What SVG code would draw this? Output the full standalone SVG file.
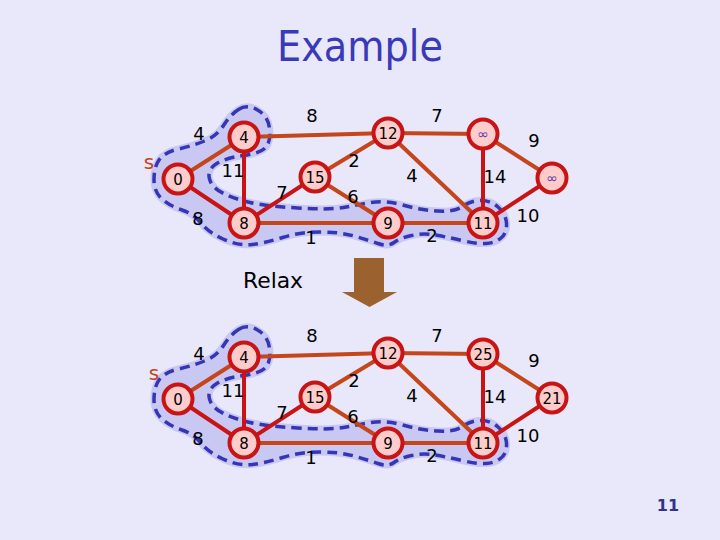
<svg xmlns="http://www.w3.org/2000/svg" xmlns:xlink="http://www.w3.org/1999/xlink" width="720" height="540" viewBox="0 0 720 540">
<style>
.bg{fill:#e8e8fa}
.cf{fill:#c8c8f3;stroke:#c8c8f3;stroke-width:7;stroke-linejoin:round}
.cd{fill:none;stroke:#3535b5;stroke-width:3.5;stroke-dasharray:10 6}
.eo{stroke:#c4461a;stroke-width:4}
.er{stroke:#c81414;stroke-width:4}
.nd circle{fill:#ffcccc;stroke:#c81414;stroke-width:4}
.nt{font-family:"DejaVu Sans",sans-serif;font-size:15px;fill:#000;text-anchor:middle}
.inf{font-family:"DejaVu Sans",sans-serif;font-size:14px;fill:#5a3ab0;text-anchor:middle}
.el{font-family:"DejaVu Sans",sans-serif;font-size:18px;fill:#000;text-anchor:middle}
.s{font-family:"DejaVu Sans",sans-serif;font-size:20px;fill:#c4461a;text-anchor:middle}
</style>
<defs>
<path id="cloud" d="M238.5,109.5 Q247,104 257.5,110 Q268,116 269.5,128 Q271,140 266.5,146.5 Q262,153 243.5,155.5 Q225,158 216,164 Q207,170 209.5,179 Q212,188 223.5,193.5 Q235,199 250,202.5 Q265,206 297.5,208 Q330,210 343.5,207.5 Q357,205 371,202.5 Q385,200 402.5,205 Q420,210 437.5,211 Q455,212 462.5,206.5 Q470,201 480,200.5 Q490,200 498,207 Q506,214 506.5,223.5 Q507,233 501,238 Q495,243 486,243.5 Q477,244 462,240.5 Q447,237 435,235 Q423,233 411.5,235.5 Q400,238 394,242.5 Q388,247 378,243.5 Q368,240 354,236 Q340,232 320,232 Q300,232 282.5,237.5 Q265,243 252.5,244.5 Q238,246 223,239 Q208,232 201,223 Q194,214 182,210 Q170,206 162,199 Q154,192 154,179.5 Q154,167 159,160 Q165,152 178.5,149 Q192,146 204.5,141 Q217,136 223.5,125.5 Q230,115 238.5,109.5 Z"/>
</defs>
<rect class="bg" x="0" y="0" width="720" height="540"/>
<text x="360" y="61" font-family="DejaVu Sans, sans-serif" font-size="42" fill="#3a3ab8" text-anchor="middle" textLength="166" lengthAdjust="spacingAndGlyphs">Example</text>

<g id="cloud-top">
<use xlink:href="#cloud" class="cf"/>
<use xlink:href="#cloud" class="cd"/>
</g>
<g id="cloud-bottom" transform="translate(0,220)">
<use xlink:href="#cloud" class="cf"/>
<use xlink:href="#cloud" class="cd"/>
</g>

<g id="connectors">
<g id="edges-top">
<line class="eo" x1="178" y1="179" x2="244" y2="137"/>
<line class="eo" x1="244" y1="137" x2="388" y2="133"/>
<line class="er" x1="178" y1="179" x2="244" y2="223"/>
<line class="er" x1="244" y1="137" x2="244" y2="223"/>
<line class="er" x1="244" y1="223" x2="315" y2="177"/>
<line class="eo" x1="244" y1="223" x2="388" y2="223"/>
<line class="eo" x1="315" y1="177" x2="388" y2="133"/>
<line class="eo" x1="315" y1="177" x2="388" y2="223"/>
<line class="eo" x1="388" y1="133" x2="483" y2="223"/>
<line class="eo" x1="388" y1="133" x2="483" y2="134"/>
<line class="er" x1="483" y1="134" x2="483" y2="223"/>
<line class="eo" x1="483" y1="134" x2="552" y2="178"/>
<line class="eo" x1="388" y1="223" x2="483" y2="223"/>
<line class="er" x1="483" y1="223" x2="552" y2="178"/>
</g>
<g id="edges-bottom" transform="translate(0,220)">
<line class="eo" x1="178" y1="179" x2="244" y2="137"/>
<line class="eo" x1="244" y1="137" x2="388" y2="133"/>
<line class="er" x1="178" y1="179" x2="244" y2="223"/>
<line class="er" x1="244" y1="137" x2="244" y2="223"/>
<line class="er" x1="244" y1="223" x2="315" y2="177"/>
<line class="eo" x1="244" y1="223" x2="388" y2="223"/>
<line class="eo" x1="315" y1="177" x2="388" y2="133"/>
<line class="eo" x1="315" y1="177" x2="388" y2="223"/>
<line class="eo" x1="388" y1="133" x2="483" y2="223"/>
<line class="eo" x1="388" y1="133" x2="483" y2="134"/>
<line class="er" x1="483" y1="134" x2="483" y2="223"/>
<line class="eo" x1="483" y1="134" x2="552" y2="178"/>
<line class="eo" x1="388" y1="223" x2="483" y2="223"/>
<line class="er" x1="483" y1="223" x2="552" y2="178"/>
</g>
</g>

<g id="edge-labels-top">
<text class="el" x="199" y="140">4</text>
<text class="el" x="312" y="122">8</text>
<text class="el" x="437" y="122">7</text>
<text class="el" x="534" y="147">9</text>
<text class="el" x="233" y="177">11</text>
<text class="el" x="282" y="199">7</text>
<text class="el" x="354" y="167">2</text>
<text class="el" x="412" y="182">4</text>
<text class="el" x="495" y="183">14</text>
<text class="el" x="353" y="203">6</text>
<text class="el" x="198" y="225">8</text>
<text class="el" x="311" y="244">1</text>
<text class="el" x="432" y="242">2</text>
<text class="el" x="528" y="222">10</text>
<text class="s" x="149" y="169">s</text>
</g>
<g id="edge-labels-bottom" transform="translate(0,220)">
<text class="el" x="199" y="140">4</text>
<text class="el" x="312" y="122">8</text>
<text class="el" x="437" y="122">7</text>
<text class="el" x="534" y="147">9</text>
<text class="el" x="233" y="177">11</text>
<text class="el" x="282" y="199">7</text>
<text class="el" x="354" y="167">2</text>
<text class="el" x="412" y="182">4</text>
<text class="el" x="495" y="183">14</text>
<text class="el" x="353" y="203">6</text>
<text class="el" x="198" y="225">8</text>
<text class="el" x="311" y="244">1</text>
<text class="el" x="432" y="242">2</text>
<text class="el" x="528" y="222">10</text>
<text class="s" x="154" y="160">s</text>
</g>

<g id="t-n0" class="nd"><circle cx="178" cy="179" r="14.5"/><text class="nt" x="178" y="184.5">0</text></g>
<g id="t-n4" class="nd"><circle cx="244" cy="137" r="14.5"/><text class="nt" x="244" y="142.5">4</text></g>
<g id="t-n8" class="nd"><circle cx="244" cy="223" r="14.5"/><text class="nt" x="244" y="228.5">8</text></g>
<g id="t-n15" class="nd"><circle cx="315" cy="177" r="14.5"/><text class="nt" x="315" y="182.5">15</text></g>
<g id="t-n12" class="nd"><circle cx="388" cy="133" r="14.5"/><text class="nt" x="388" y="138.5">12</text></g>
<g id="t-nA" class="nd"><circle cx="483" cy="134" r="14.5"/><text class="inf" x="483" y="139">∞</text></g>
<g id="t-nB" class="nd"><circle cx="552" cy="178" r="14.5"/><text class="inf" x="552" y="183">∞</text></g>
<g id="t-n9" class="nd"><circle cx="388" cy="223" r="14.5"/><text class="nt" x="388" y="228.5">9</text></g>
<g id="t-n11" class="nd"><circle cx="483" cy="223" r="14.5"/><text class="nt" x="483" y="228.5">11</text></g>

<g id="b-n0" class="nd"><circle cx="178" cy="399" r="14.5"/><text class="nt" x="178" y="404.5">0</text></g>
<g id="b-n4" class="nd"><circle cx="244" cy="357" r="14.5"/><text class="nt" x="244" y="362.5">4</text></g>
<g id="b-n8" class="nd"><circle cx="244" cy="443" r="14.5"/><text class="nt" x="244" y="448.5">8</text></g>
<g id="b-n15" class="nd"><circle cx="315" cy="397" r="14.5"/><text class="nt" x="315" y="402.5">15</text></g>
<g id="b-n12" class="nd"><circle cx="388" cy="353" r="14.5"/><text class="nt" x="388" y="358.5">12</text></g>
<g id="b-n25" class="nd"><circle cx="483" cy="354" r="14.5"/><text class="nt" x="483" y="359.5">25</text></g>
<g id="b-n21" class="nd"><circle cx="552" cy="398" r="14.5"/><text class="nt" x="552" y="403.5">21</text></g>
<g id="b-n9" class="nd"><circle cx="388" cy="443" r="14.5"/><text class="nt" x="388" y="448.5">9</text></g>
<g id="b-n11" class="nd"><circle cx="483" cy="443" r="14.5"/><text class="nt" x="483" y="448.5">11</text></g>

<g id="relax">
<text x="243" y="288" font-family="DejaVu Sans, sans-serif" font-size="21" fill="#000" textLength="60" lengthAdjust="spacingAndGlyphs">Relax</text>
<polygon points="354,258 384,258 384,292 397,292 369.5,307 342,292 354,292" fill="#9b6230"/>
</g>
<text x="668" y="511" font-family="DejaVu Sans, sans-serif" font-size="16" font-weight="bold" fill="#333388" text-anchor="middle">11</text>
</svg>
